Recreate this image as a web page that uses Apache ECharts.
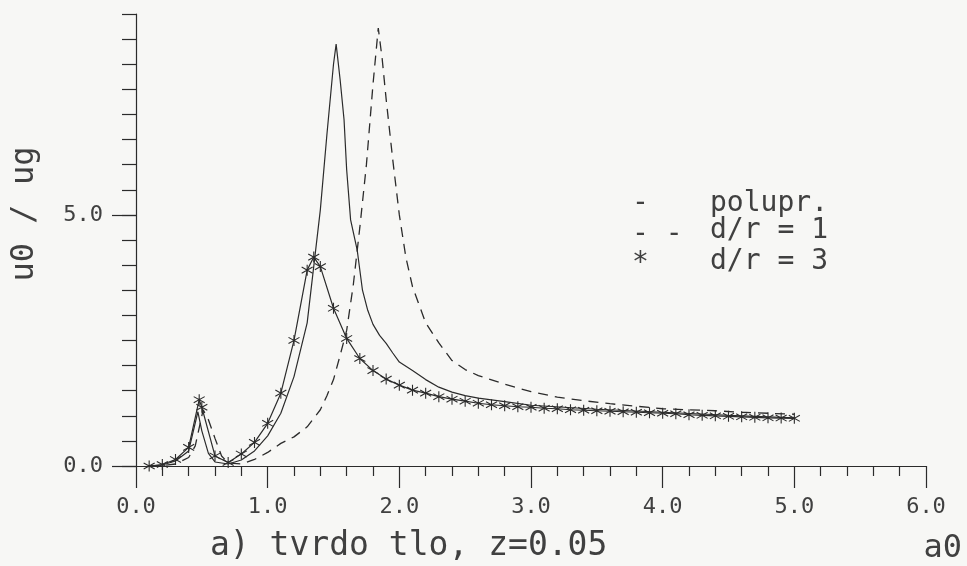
<!DOCTYPE html>
<html>
<head>
<meta charset="utf-8">
<script src="https://cdn.jsdelivr.net/npm/echarts@6/dist/echarts.min.js"></script>
<style>
html,body{margin:0;padding:0;background:#f7f7f5;}
#c{width:967px;height:566px;}
</style>
</head>
<body>
<div id="c"></div>
<script>
// ---- data ----
const polX = [0.1,0.2,0.3,0.4,0.47,0.5,0.55,0.6,0.7,0.8,0.9,1.0,1.1,1.2,1.3,1.36,1.4,1.45,1.5,1.52,1.55,1.58,1.6,1.63,1.68,1.72,1.76,1.8,1.85,1.9,1.95,2.0,2.1,2.2,2.3,2.4,2.5,2.6,2.8,3.0,3.5,4.0,4.5,5.0];
const polY = [0.0,0.02,0.1,0.3,1.08,0.7,0.25,0.08,0.04,0.12,0.3,0.6,1.05,1.78,2.85,4.2,5.1,6.6,8.0,8.4,7.7,6.9,5.9,4.9,4.3,3.5,3.1,2.82,2.6,2.44,2.25,2.07,1.9,1.72,1.57,1.47,1.40,1.35,1.28,1.21,1.13,1.07,1.01,0.96];

const d1X = [0.1,0.2,0.3,0.4,0.45,0.51,0.55,0.6,0.65,0.7,0.8,0.9,1.0,1.1,1.2,1.3,1.4,1.45,1.5,1.55,1.6,1.65,1.7,1.75,1.8,1.84,1.87,1.9,1.95,2.0,2.05,2.1,2.2,2.3,2.4,2.5,2.6,2.8,3.0,3.2,3.4,3.6,3.8,4.0,4.2,4.4,4.6,4.8,5.0];
const d1Y = [0.0,0.01,0.04,0.17,0.4,1.12,0.92,0.55,0.2,0.06,0.04,0.13,0.27,0.45,0.58,0.78,1.12,1.4,1.72,2.2,2.7,3.6,4.75,6.0,7.6,8.72,8.1,7.3,6.1,5.0,4.15,3.57,2.85,2.45,2.1,1.92,1.8,1.63,1.48,1.37,1.3,1.24,1.19,1.14,1.12,1.1,1.07,1.05,1.03];

const d3X = [0.1,0.2,0.3,0.4,0.48,0.5,0.6,0.7,0.8,0.9,1.0,1.1,1.2,1.3,1.35,1.4,1.5,1.6,1.7,1.8,1.9,2.0,2.1,2.2,2.3,2.4,2.5,2.6,2.7,2.8,2.9,3.0,3.1,3.2,3.3,3.4,3.5,3.6,3.7,3.8,3.9,4.0,4.1,4.2,4.3,4.4,4.5,4.6,4.7,4.8,4.9,5.0];
const d3Y = [0.0,0.03,0.13,0.37,1.32,1.17,0.2,0.07,0.24,0.47,0.85,1.45,2.5,3.9,4.16,3.97,3.14,2.54,2.14,1.9,1.73,1.61,1.51,1.45,1.38,1.33,1.29,1.25,1.22,1.2,1.18,1.17,1.15,1.14,1.12,1.11,1.10,1.09,1.08,1.07,1.06,1.05,1.04,1.02,1.01,1.0,0.99,0.98,0.97,0.96,0.955,0.95];

const xTicks = [0,1,2,3,4,5,6];
const yLabelValues = [0,5];
const legendLabels = ['polupr.','d/r = 1','d/r = 3'];
const legendMarks = ['-','- -','*'];
const yName = 'u0 / ug';
const xName = 'a) tvrdo tlo, z=0.05';
const xUnit = 'a0';

function zip(xs, ys){ return xs.map((x,i)=>[x, ys[i]]); }

const INK = '#2b2b2b';
const TXT = '#404040';
const FONT = '"DejaVu Sans Mono", "Liberation Mono", monospace';
const star = 'path://M5 0L5 10M0 2.2L10 7.8M0 7.8L10 2.2';

function txt(x, y, s, size, align, extra){
  return Object.assign({type: 'text', x: x, y: y,
    style: {text: s, font: size + 'px ' + FONT, fill: TXT, align: align, verticalAlign: 'middle'}}, extra || {});
}

const chart = echarts.init(document.getElementById('c'), null, {renderer:'canvas'});
chart.setOption({
  backgroundColor: '#f7f7f5',
  animation: false,
  grid: {left: 136, right: 41, top: 14, bottom: 100, containLabel: false},
  xAxis: {
    type: 'value', min: xTicks[0], max: xTicks[xTicks.length-1], interval: 1,
    axisLine: {show: true, onZero: false, lineStyle: {color: INK, width: 1.2}},
    axisTick: {show: true, length: 22, lineStyle: {color: INK, width: 1.2}},
    minorTick: {show: true, splitNumber: 5, length: 10, lineStyle: {color: INK, width: 1.2}},
    splitLine: {show: false},
    axisLabel: {margin: 30, color: TXT, fontFamily: FONT, fontSize: 22,
      formatter: v => v.toFixed(1)}
  },
  yAxis: [{
    type: 'value', min: 0, max: 9, interval: 0.5,
    axisLine: {show: true, lineStyle: {color: INK, width: 1.2}},
    axisTick: {show: true, length: 14, lineStyle: {color: INK, width: 1.2}},
    splitLine: {show: false},
    axisLabel: {margin: 33, color: TXT, fontFamily: FONT, fontSize: 22,
      formatter: v => yLabelValues.indexOf(v) >= 0 ? v.toFixed(1) : ''}
  }, {
    type: 'value', min: 0, max: 9, interval: 5, position: 'left',
    axisLine: {show: false},
    axisTick: {show: true, length: 24, customValues: yLabelValues, lineStyle: {color: INK, width: 1.2}},
    splitLine: {show: false},
    axisLabel: {show: false}
  }],
  series: [{
    name: legendLabels[0], type: 'line', data: zip(polX, polY), showSymbol: false,
    lineStyle: {color: INK, width: 1.2}, z: 3
  }, {
    name: legendLabels[1], type: 'line', data: zip(d1X, d1Y), showSymbol: false,
    lineStyle: {color: INK, width: 1.3, type: [10, 7]}, z: 3
  }, {
    name: legendLabels[2], type: 'line', data: zip(d3X, d3Y),
    symbol: star, symbolSize: 11, showSymbol: true,
    itemStyle: {color: 'rgba(0,0,0,0)', borderColor: INK, borderWidth: 1.1},
    lineStyle: {color: INK, width: 1.2}, z: 4
  }],
  graphic: [
    txt(25, 214, yName, 32, 'center', {rotation: Math.PI/2}),
    txt(210, 546, xName, 33, 'left'),
    txt(962, 549, xUnit, 32, 'right'),
    txt(632, 204, legendMarks[0], 28, 'left'),
    txt(632, 235, legendMarks[1], 28, 'left'),
    txt(632, 264, legendMarks[2], 28, 'left'),
    txt(710, 204, legendLabels[0], 28, 'left'),
    txt(710, 231, legendLabels[1], 28, 'left'),
    txt(710, 262, legendLabels[2], 28, 'left')
  ]
});
</script>
</body>
</html>
